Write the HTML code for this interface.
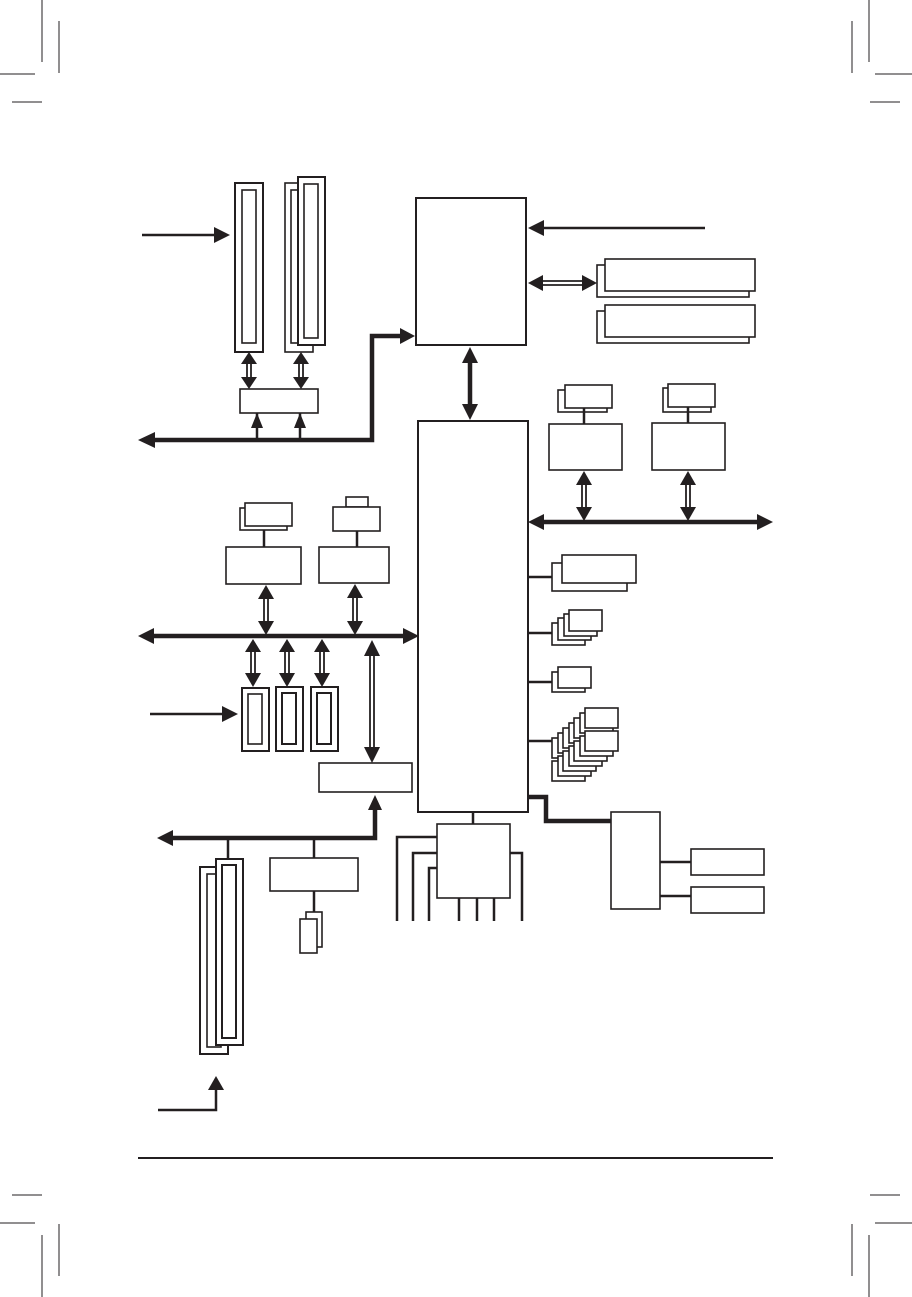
<!DOCTYPE html>
<html><head><meta charset="utf-8"><style>html,body{margin:0;padding:0;background:#fff}svg{display:block}</style></head>
<body>
<svg width="912" height="1297" viewBox="0 0 912 1297" xmlns="http://www.w3.org/2000/svg">
<g stroke="#231f20" fill="none" stroke-width="1">
<!-- crop marks -->
<line x1="42" y1="0" x2="42" y2="62"/><line x1="59" y1="21" x2="59" y2="73"/>
<line x1="0" y1="74" x2="35" y2="74"/><line x1="12" y1="102" x2="42" y2="102"/>
<line x1="869" y1="0" x2="869" y2="62"/><line x1="852" y1="21" x2="852" y2="73"/>
<line x1="875" y1="74" x2="912" y2="74"/><line x1="870" y1="102" x2="900" y2="102"/>
<line x1="42" y1="1235" x2="42" y2="1297"/><line x1="59" y1="1224" x2="59" y2="1276"/>
<line x1="0" y1="1223" x2="35" y2="1223"/><line x1="12" y1="1195" x2="42" y2="1195"/>
<line x1="869" y1="1235" x2="869" y2="1297"/><line x1="852" y1="1224" x2="852" y2="1276"/>
<line x1="875" y1="1223" x2="912" y2="1223"/><line x1="870" y1="1195" x2="900" y2="1195"/>
</g>
<g stroke="#231f20" fill="#fff" stroke-width="1.6">
<!-- CPU & chipset -->
<rect x="416" y="198" width="110" height="147" stroke-width="2"/>
<rect x="418" y="421" width="110" height="391" stroke-width="2"/>
<!-- memory -->
<rect x="597" y="265" width="152" height="32"/><rect x="605" y="259" width="150" height="32"/>
<rect x="597" y="311" width="152" height="32"/><rect x="605" y="305" width="150" height="32"/>
<!-- top-left slots -->
<rect x="235" y="183" width="28" height="169" stroke-width="2"/><rect x="242" y="190" width="14" height="153"/>
<rect x="285" y="183" width="28" height="169"/><rect x="291" y="190" width="14" height="153"/>
<rect x="298" y="177" width="27" height="168" stroke-width="2"/><rect x="304" y="184" width="14" height="154"/>
<rect x="240" y="389" width="78" height="24"/>
<!-- right top devices -->
<rect x="558" y="390" width="49" height="22"/><rect x="565" y="385" width="47" height="23"/>
<rect x="549" y="424" width="73" height="46"/>
<rect x="663" y="388" width="48" height="24"/><rect x="668" y="384" width="47" height="23"/>
<rect x="652" y="423" width="73" height="47"/>
<!-- right side stacks -->
<rect x="552" y="563" width="75" height="28"/><rect x="562" y="555" width="74" height="28"/>
<rect x="552" y="623" width="33" height="22"/><rect x="558" y="618" width="33" height="22"/><rect x="564" y="614" width="33" height="22"/><rect x="569" y="610" width="33" height="21"/>
<rect x="552" y="672" width="33" height="20"/><rect x="558" y="667" width="33" height="21"/>
<rect x="552" y="738" width="33" height="20"/><rect x="558" y="733" width="33" height="20"/><rect x="563" y="728" width="33" height="20"/><rect x="569" y="723" width="33" height="20"/><rect x="574" y="718" width="33" height="20"/><rect x="580" y="713" width="33" height="20"/>
<rect x="552" y="761" width="33" height="20"/><rect x="558" y="756" width="33" height="20"/><rect x="563" y="751" width="33" height="20"/><rect x="569" y="746" width="33" height="20"/><rect x="574" y="741" width="33" height="20"/><rect x="580" y="736" width="33" height="20"/>
<rect x="585" y="708" width="33" height="20"/><rect x="585" y="731" width="33" height="20"/>
<!-- bottom right -->
<rect x="611" y="812" width="49" height="97"/>
<rect x="691" y="849" width="73" height="26"/><rect x="691" y="887" width="73" height="26"/>
<!-- middle left devices -->
<rect x="240" y="508" width="47" height="22"/><rect x="245" y="503" width="47" height="23"/>
<rect x="226" y="547" width="75" height="37"/>
<rect x="346" y="497" width="22" height="10"/><rect x="333" y="507" width="47" height="24"/>
<rect x="319" y="547" width="70" height="36"/>
<rect x="242" y="688" width="27" height="63" stroke-width="2"/><rect x="248" y="694" width="14" height="50"/>
<rect x="276" y="687" width="27" height="64" stroke-width="2"/><rect x="282" y="693" width="14" height="51" stroke-width="2"/>
<rect x="311" y="687" width="27" height="64" stroke-width="2"/><rect x="317" y="693" width="14" height="51" stroke-width="2"/>
<rect x="319" y="763" width="93" height="29"/>
<!-- bottom left -->
<rect x="200" y="867" width="28" height="187" stroke-width="2"/><rect x="207" y="874" width="14" height="173"/>
<rect x="216" y="859" width="27" height="186" stroke-width="2"/><rect x="222" y="865" width="14" height="173" stroke-width="2"/>
<rect x="270" y="858" width="88" height="33"/>
<rect x="306" y="912" width="16" height="35"/><rect x="300" y="919" width="17" height="34"/>
<rect x="437" y="824" width="73" height="74"/>
</g>
<g stroke="#231f20" fill="none" stroke-width="2.5">
<line x1="538" y1="228" x2="705" y2="228"/>
<line x1="142" y1="235" x2="218" y2="235"/>
<line x1="150" y1="714" x2="224" y2="714"/>
<polyline points="158,1110 216,1110 216,1088"/>
<!-- connectors -->
<line x1="584" y1="408" x2="584" y2="424"/><line x1="688" y1="407" x2="688" y2="423"/>
<line x1="264" y1="530" x2="264" y2="547"/><line x1="357" y1="531" x2="357" y2="547"/>
<line x1="528" y1="577" x2="552" y2="577"/><line x1="528" y1="633" x2="552" y2="633"/>
<line x1="528" y1="682" x2="552" y2="682"/><line x1="528" y1="741" x2="552" y2="741"/>
<line x1="660" y1="862" x2="691" y2="862"/><line x1="660" y1="896" x2="691" y2="896"/>
<line x1="228" y1="838" x2="228" y2="859"/><line x1="314" y1="838" x2="314" y2="858"/>
<line x1="314" y1="891" x2="314" y2="912"/>
<line x1="473" y1="812" x2="473" y2="824"/>
<polyline points="397,921 397,837 437,837"/>
<polyline points="413,921 413,853 437,853"/>
<polyline points="429,921 429,868 437,868"/>
<line x1="459" y1="898" x2="459" y2="921"/><line x1="477" y1="898" x2="477" y2="921"/><line x1="494" y1="898" x2="494" y2="921"/>
<polyline points="510,853 522,853 522,921"/>
<line x1="257" y1="413" x2="257" y2="440"/><line x1="300" y1="413" x2="300" y2="440"/>
</g>
<g stroke="#231f20" fill="none" stroke-width="4.5">
<polyline points="152,440 372,440 372,336 402,336"/>
<line x1="540" y1="522" x2="760" y2="522"/>
<line x1="150" y1="636" x2="406" y2="636"/>
<polyline points="170,838 375,838 375,808"/>
<polyline points="528,797 546,797 546,821 611,821"/>
<line x1="470" y1="360" x2="470" y2="407"/>
<line x1="538" y1="283" x2="586" y2="283" stroke-width="0"/>
<line x1="138" y1="1158" x2="773" y2="1158" stroke-width="2"/>
</g>
<g stroke="#231f20" fill="none" stroke-width="1.8">
<!-- double shafts -->
<line x1="247" y1="362" x2="247" y2="379"/><line x1="251" y1="362" x2="251" y2="379"/>
<line x1="299" y1="362" x2="299" y2="379"/><line x1="303" y1="362" x2="303" y2="379"/>
<line x1="582" y1="482" x2="582" y2="509"/><line x1="586" y1="482" x2="586" y2="509"/>
<line x1="686" y1="482" x2="686" y2="509"/><line x1="690" y1="482" x2="690" y2="509"/>
<line x1="264" y1="596" x2="264" y2="624"/><line x1="268" y1="596" x2="268" y2="624"/>
<line x1="353" y1="595" x2="353" y2="624"/><line x1="357" y1="595" x2="357" y2="624"/>
<line x1="251" y1="648" x2="251" y2="676"/><line x1="255" y1="648" x2="255" y2="676"/>
<line x1="285" y1="648" x2="285" y2="676"/><line x1="289" y1="648" x2="289" y2="676"/>
<line x1="320" y1="648" x2="320" y2="676"/><line x1="324" y1="648" x2="324" y2="676"/>
<line x1="370" y1="652" x2="370" y2="751"/><line x1="374" y1="652" x2="374" y2="751"/>
<line x1="540" y1="281" x2="585" y2="281"/><line x1="540" y1="285" x2="585" y2="285"/>
</g>
<g fill="#231f20" stroke="none">
<!-- arrowheads -->
<polygon points="528,228 544,220 544,236"/>
<polygon points="230,235 214,227 214,243"/>
<polygon points="238,714 222,706 222,722"/>
<polygon points="216,1076 208,1090 224,1090"/>
<polygon points="138,440 155,432 155,448"/>
<polygon points="415,336 400,328 400,344"/>
<polygon points="257,413 251,428 263,428"/><polygon points="300,413 294,428 306,428"/>
<polygon points="528,522 544,514 544,530"/><polygon points="773,522 757,514 757,530"/>
<polygon points="138,636 154,628 154,644"/><polygon points="419,636 403,628 403,644"/>
<polygon points="157,838 173,830 173,846"/>
<polygon points="375,795 368,810 382,810"/>
<polygon points="470,347 462,363 478,363"/><polygon points="470,420 462,404 478,404"/>
<polygon points="528,283 543,275 543,291"/><polygon points="597,283 582,275 582,291"/>
<polygon points="249,352 241,364 257,364"/><polygon points="249,389 241,377 257,377"/>
<polygon points="301,352 293,364 309,364"/><polygon points="301,389 293,377 309,377"/>
<polygon points="584,471 576,485 592,485"/><polygon points="584,521 576,507 592,507"/>
<polygon points="688,471 680,485 696,485"/><polygon points="688,521 680,507 696,507"/>
<polygon points="266,585 258,599 274,599"/><polygon points="266,635 258,621 274,621"/>
<polygon points="355,584 347,598 363,598"/><polygon points="355,635 347,621 363,621"/>
<polygon points="253,639 245,652 261,652"/><polygon points="253,687 245,673 261,673"/>
<polygon points="287,639 279,652 295,652"/><polygon points="287,687 279,673 295,673"/>
<polygon points="322,639 314,652 330,652"/><polygon points="322,687 314,673 330,673"/>
<polygon points="372,640 364,656 380,656"/><polygon points="372,763 364,747 380,747"/>
</g>
</svg>
</body></html>
